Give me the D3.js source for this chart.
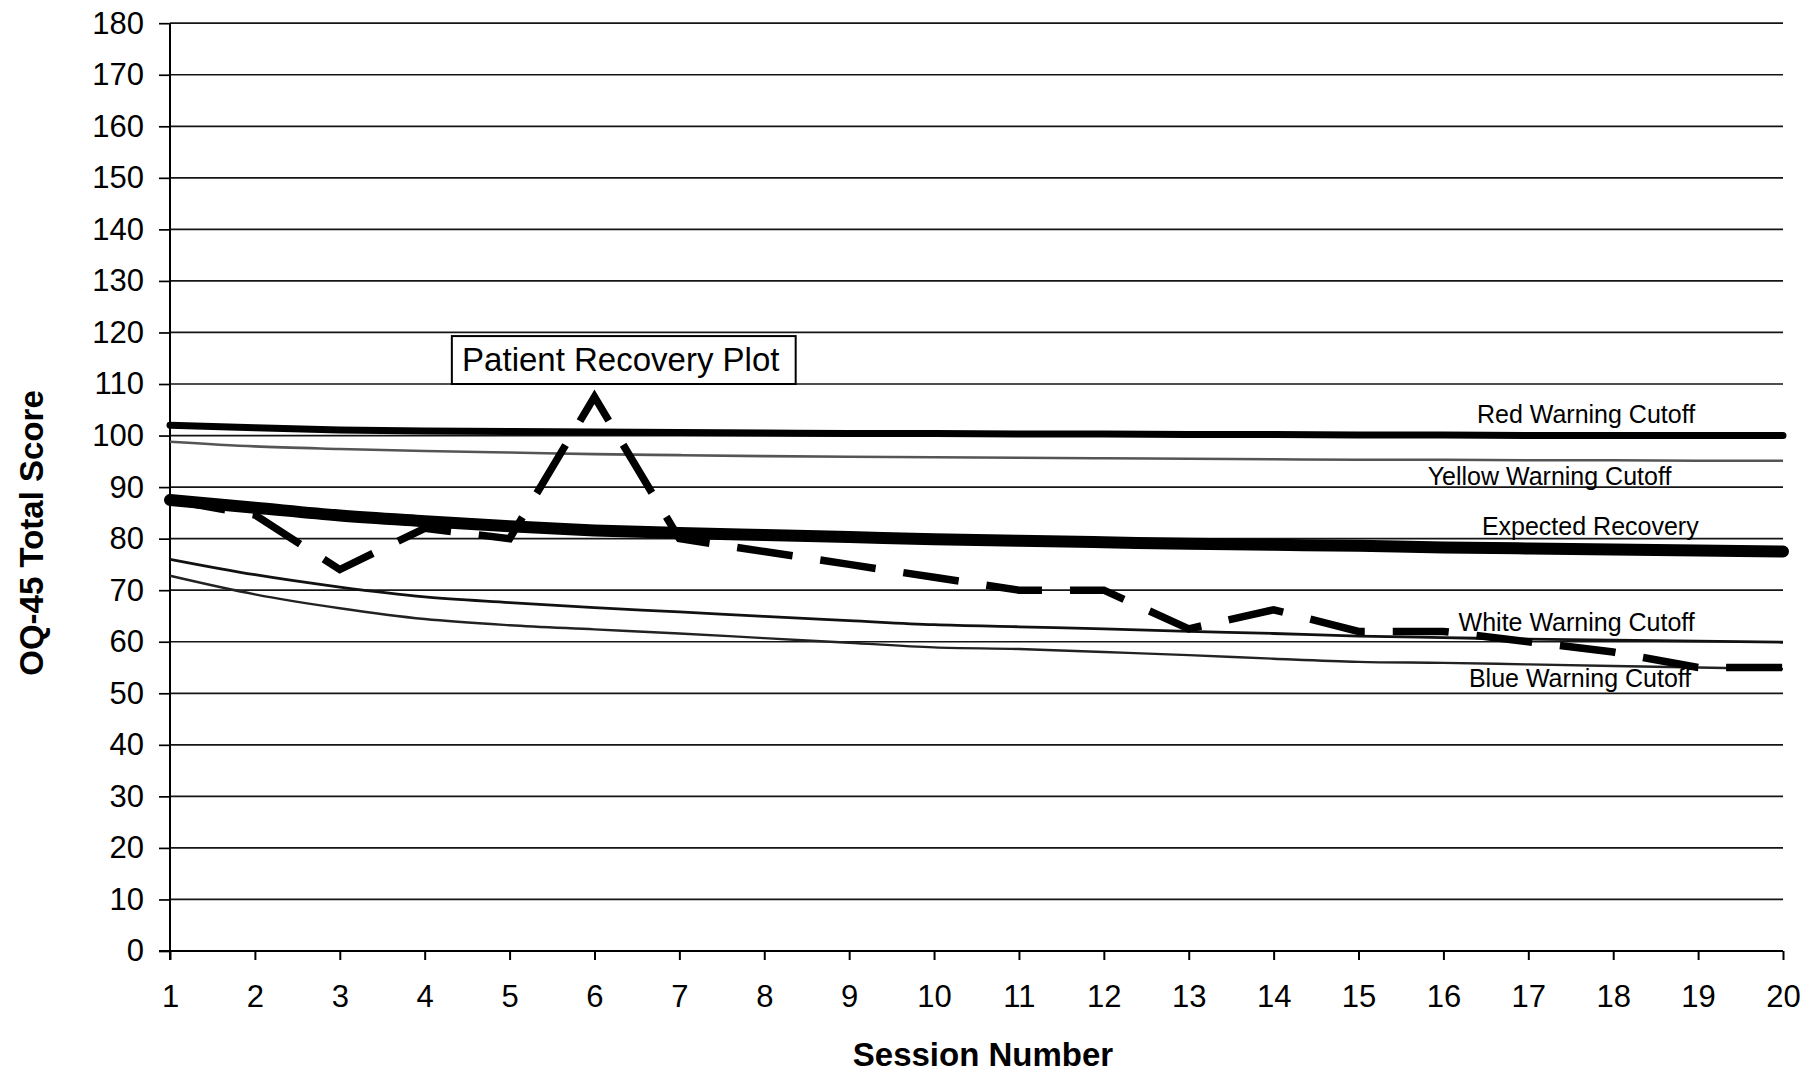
<!DOCTYPE html>
<html>
<head>
<meta charset="utf-8">
<script src="https://cdn.jsdelivr.net/npm/d3@7"></script>
<style>
  html, body { margin: 0; padding: 0; background: #fff; }
  svg { display: block; }
  text { font-family: "Liberation Sans", Arial, Helvetica, sans-serif; fill: #000; }
</style>
</head>
<body>
<svg id="chart" width="1812" height="1077"></svg>
<script>
// ---------- data ----------
const sessions = [1,2,3,4,5,6,7,8,9,10,11,12,13,14,15,16,17,18,19,20];
const yTickValues = [0,10,20,30,40,50,60,70,80,90,100,110,120,130,140,150,160,170,180];

const redCutoff      = [102, 101.5, 101.1, 100.9, 100.8, 100.7, 100.6, 100.5, 100.4, 100.4, 100.3, 100.3, 100.2, 100.2, 100.1, 100.1, 100, 100, 100, 100];
const yellowCutoff   = [98.8, 97.9, 97.4, 97.0, 96.7, 96.4, 96.2, 96.0, 95.9, 95.8, 95.7, 95.6, 95.5, 95.4, 95.3, 95.3, 95.2, 95.2, 95.1, 95.1];
const expectedRecovery = [87.5, 86.0, 84.5, 83.4, 82.4, 81.6, 81.1, 80.7, 80.3, 79.9, 79.6, 79.3, 79.0, 78.8, 78.6, 78.3, 78.1, 77.9, 77.7, 77.5];
const whiteCutoff    = [76, 73, 70.6, 68.7, 67.6, 66.6, 65.8, 64.9, 64.1, 63.3, 62.9, 62.5, 62.0, 61.6, 61.1, 60.8, 60.5, 60.3, 60.1, 59.9];
const blueCutoff     = [72.8, 69.2, 66.5, 64.4, 63.2, 62.4, 61.6, 60.7, 59.8, 58.9, 58.6, 58.0, 57.4, 56.7, 56.1, 55.9, 55.6, 55.3, 55.0, 54.7];
const patientScores  = [87.5, 84.6, 74, 82, 80, 107.5, 80, 77.5, 75, 72.5, 70, 70, 62.5, 66.2, 62, 62, 60, 58, 55, 55];

const seriesLabels = ["Red Warning Cutoff", "Yellow Warning Cutoff", "Expected Recovery", "White Warning Cutoff", "Blue Warning Cutoff"];
const annotationText = "Patient Recovery Plot";
const xTitle = "Session Number";
const yTitle = "OQ-45 Total Score";

// ---------- layout ----------
const svg = d3.select("#chart");
const plotLeft = 170, plotRight = 1783, plotTop = 23.2, plotBottom = 951;

const x = d3.scaleLinear().domain([1, 20]).range([plotLeft, plotRight]);
const y = d3.scaleLinear().domain([0, 180]).range([plotBottom, plotTop]);

// gridlines
svg.append("g").selectAll("line").data(yTickValues).join("line")
  .attr("x1", plotLeft).attr("x2", plotRight)
  .attr("y1", d => y(d)).attr("y2", d => y(d))
  .attr("stroke", "#151515").attr("stroke-width", 1.7);

// y axis
const yAxis = svg.append("g").attr("transform", `translate(${plotLeft},0)`)
  .call(d3.axisLeft(y).tickValues(yTickValues).tickSize(11).tickPadding(15).tickFormat(d3.format("d")));
yAxis.select(".domain").attr("stroke", "#000").attr("stroke-width", 2).attr("d", `M0,${plotTop}V${plotBottom + 9}`);
yAxis.selectAll(".tick line").attr("stroke", "#000").attr("stroke-width", 1.7);
yAxis.selectAll("text").style("font-size", "31px").attr("fill", "#000");

// x axis
const xAxis = svg.append("g").attr("transform", `translate(0,${plotBottom})`)
  .call(d3.axisBottom(x).tickValues(sessions).tickSize(9).tickPadding(25).tickFormat(d3.format("d")));
xAxis.select(".domain").attr("stroke", "#000").attr("stroke-width", 2).attr("d", `M${plotLeft - 11},0H${plotRight}`);
xAxis.selectAll(".tick line").attr("stroke", "#000").attr("stroke-width", 2);
xAxis.selectAll("text").style("font-size", "31px").attr("fill", "#000");

// lines
const line = d3.line().x((d, i) => x(sessions[i])).y(d => y(d)).curve(d3.curveMonotoneX);
const straight = d3.line().x((d, i) => x(sessions[i])).y(d => y(d));

const series = [
  { data: yellowCutoff, color: "#555", width: 2.6, cap: "butt" },
  { data: blueCutoff, color: "#222", width: 2.4, cap: "butt" },
  { data: whiteCutoff, color: "#111", width: 2.8, cap: "butt" },
  { data: redCutoff, color: "#000", width: 7, cap: "round" },
  { data: expectedRecovery, color: "#000", width: 12, cap: "round" }
];
svg.append("g").selectAll("path").data(series).join("path")
  .attr("d", d => line(d.data))
  .attr("fill", "none")
  .attr("stroke", d => d.color)
  .attr("stroke-width", d => d.width)
  .attr("stroke-linecap", d => d.cap);

// patient dashed line
svg.append("path")
  .attr("d", straight(patientScores))
  .attr("fill", "none")
  .attr("stroke", "#000")
  .attr("stroke-width", 7.5)
  .attr("stroke-dasharray", "56,28")
  .attr("stroke-linejoin", "miter");

// series labels
const labelPos = [
  { s: 17.68, v: 102.5 },
  { s: 17.25, v: 90.4 },
  { s: 17.73, v: 80.7 },
  { s: 17.57, v: 62.1 },
  { s: 17.61, v: 51.3 }
];
svg.append("g").selectAll("text").data(seriesLabels).join("text")
  .attr("x", (d, i) => x(labelPos[i].s))
  .attr("y", (d, i) => y(labelPos[i].v))
  .attr("text-anchor", "middle")
  .style("font-size", "25px")
  .text(d => d);

// annotation box
const boxL = x(4.32), boxR = x(8.37), boxT = y(119.3), boxB = y(110);
svg.append("rect")
  .attr("x", boxL).attr("y", boxT)
  .attr("width", boxR - boxL).attr("height", boxB - boxT)
  .attr("fill", "#fff").attr("stroke", "#000").attr("stroke-width", 2);
svg.append("text")
  .attr("x", (boxL + boxR) / 2 - 3)
  .attr("y", boxB - 13.5)
  .attr("text-anchor", "middle")
  .style("font-size", "33px")
  .text(annotationText);

// axis titles
svg.append("text")
  .attr("x", 983).attr("y", 1066)
  .attr("text-anchor", "middle")
  .style("font-size", "33px").style("font-weight", "bold")
  .text(xTitle);
svg.append("text")
  .attr("transform", "translate(43,533) rotate(-90)")
  .attr("text-anchor", "middle")
  .style("font-size", "33px").style("font-weight", "bold")
  .text(yTitle);
</script>
</body>
</html>
